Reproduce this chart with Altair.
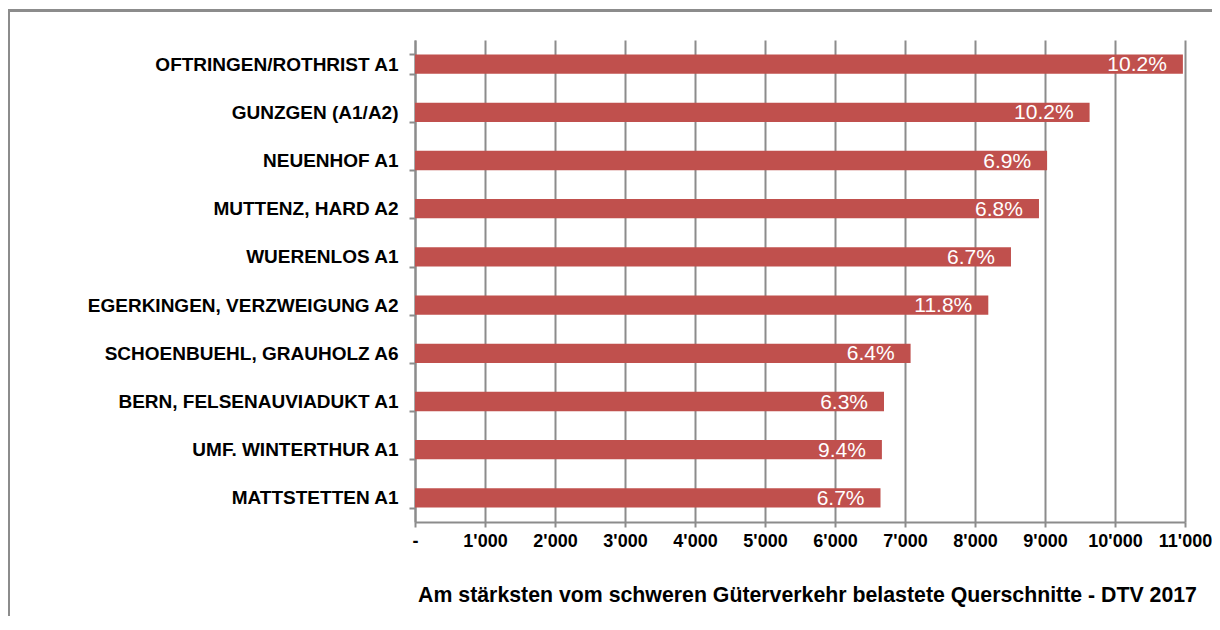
import altair as alt
import pandas as pd

categories = [
    "OFTRINGEN/ROTHRIST A1",
    "GUNZGEN (A1/A2)",
    "NEUENHOF A1",
    "MUTTENZ, HARD A2",
    "WUERENLOS A1",
    "EGERKINGEN, VERZWEIGUNG A2",
    "SCHOENBUEHL, GRAUHOLZ A6",
    "BERN, FELSENAUVIADUKT A1",
    "UMF. WINTERTHUR A1",
    "MATTSTETTEN A1",
]
dtv_values = [10970, 9637, 9030, 8914, 8514, 8190, 7080, 6700, 6670, 6650]
share_labels = ["10.2%", "10.2%", "6.9%", "6.8%", "6.7%", "11.8%", "6.4%", "6.3%", "9.4%", "6.7%"]
x_ticks = list(range(0, 11001, 1000))

df = pd.DataFrame({"cat": categories, "dtv": dtv_values, "share": share_labels})

FONT = "Liberation Sans"
GRID = "#8c8c8c"
BAR = "#C0504D"

x_enc = alt.X(
    "dtv:Q",
    scale=alt.Scale(domain=[0, 11000], nice=False, zero=True),
    axis=alt.Axis(
        values=x_ticks,
        labelExpr="datum.value == 0 ? '-' : replace(format(datum.value, ','), ',', \"'\")",
        labelFont=FONT, labelFontSize=18, labelFontWeight="bold", labelColor="#000000",
        labelPadding=5, tickSize=5, tickColor=GRID, tickWidth=2,
        domainColor=GRID, domainWidth=2,
        grid=True, gridColor=GRID, gridWidth=2,
        title="Am stärksten vom schweren Güterverkehr belastete Querschnitte - DTV 2017",
        titleFont=FONT, titleFontSize=21.3, titleFontWeight="bold", titleColor="#000000",
        titlePadding=34, titleX=392,
        labelFlush=False, labelOverlap=False,
    ),
)
y_enc = alt.Y(
    "cat:N",
    sort=categories,
    scale=alt.Scale(paddingInner=0.6, paddingOuter=0.3),
    axis=alt.Axis(
        title=None,
        labelFont=FONT, labelFontSize=19, labelFontWeight="bold", labelColor="#000000",
        labelPadding=11, tickSize=6, tickColor=GRID, tickWidth=2,
        tickBand="extent",
        domainColor=GRID, domainWidth=2, grid=False,
        labelLimit=500,
    ),
)

bars = alt.Chart(df).mark_bar(color=BAR).encode(x=x_enc, y=y_enc)

labels = alt.Chart(df).mark_text(
    align="right", baseline="middle", dx=-16, dy=1, color="white",
    font=FONT, fontSize=21,
).encode(x="dtv:Q", y=alt.Y("cat:N", sort=categories), text="share:N")

frame = alt.Chart(df).mark_rect(
    fill=None, stroke=GRID, strokeWidth=2, clip=False
).encode(
    x=alt.value(-406), x2=alt.value(900),
    y=alt.value(-29.5), y2=alt.value(700),
)

chart = alt.layer(frame, bars, labels).properties(
    width=770, height=482,
    autosize=alt.AutoSizeParams(type="none"),
    padding={"left": 407, "top": 32, "right": 27, "bottom": 94},
    background="white",
).configure_view(stroke=None)

chart.save("out.html", embed_options={"renderer": "svg", "actions": False})
